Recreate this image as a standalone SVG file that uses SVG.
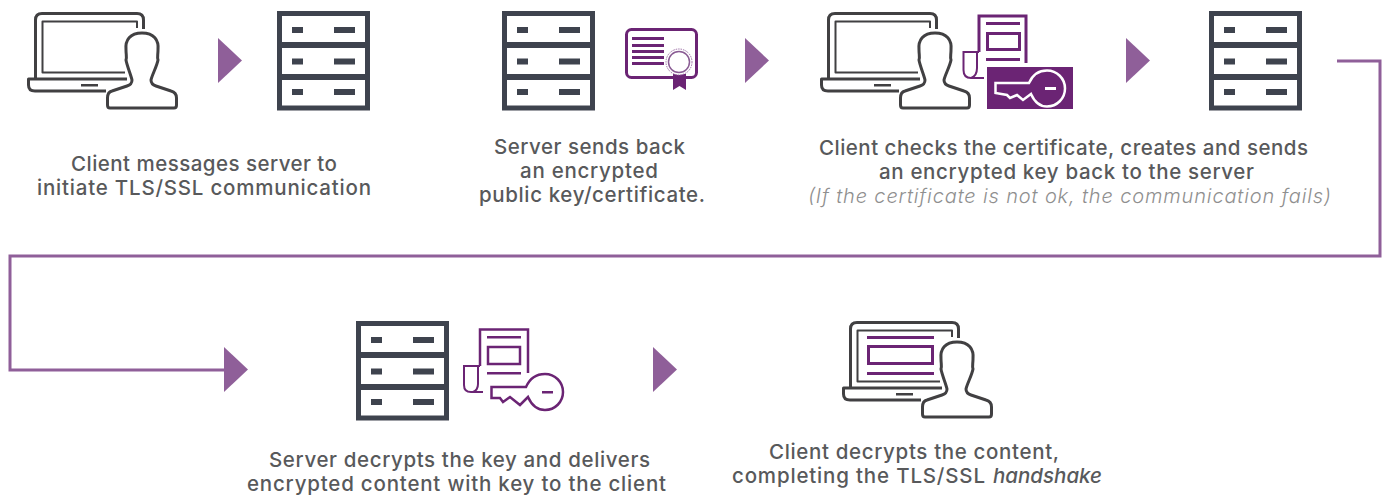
<svg xmlns="http://www.w3.org/2000/svg" width="1382" height="498" viewBox="0 0 1382 498">
<style>
.t{font-family:Inter,"Open Sans","Liberation Sans",sans-serif;font-size:20.500px;font-weight:500;fill:#58595b}
.n{font-family:Inter,"Open Sans","Liberation Sans",sans-serif;font-size:20px;font-weight:300;font-style:italic;fill:#8f8f8f}
.i{font-style:italic}
.lap{fill:none;stroke:#414042;stroke-width:3;stroke-linejoin:round}
.pur{fill:none;stroke:#6b2474;stroke-width:3}
.arr{fill:#8f5f99}
</style>
<defs>
<g id="server">
<rect x="2.500" y="2.500" width="88" height="94.500" fill="#fff" stroke="#3e434e" stroke-width="5"/>
<path fill="#3e434e" d="M2 31h89v6H2zM2 63h89v6H2zM15 16h11v6H15zM57 16h21v6H57zM15 47.500h11v6H15zM57 47.500h21v6H57zM15 78h11v6H15zM57 78h21v6H57z"/>
</g>
<g id="laptop">
<path class="lap" d="M35.500 78V20Q35.500 13.500 42 13.500H137Q143.500 13.500 143.500 20V29"/>
<path class="lap" style="stroke-width:2" d="M137 28V21.500H42.500V72.500H125"/>
<path class="lap" d="M127 79H28.500V85Q28.500 91 35 91H106"/>
<rect x="81" y="84" width="17" height="2.500" fill="#414042"/>
<path class="lap" style="fill:#fff" d="M142 33C130 33 125 40 126 50C126 55 127 57 126 60C127 66 131 75 132 80C132 84 130 85 127 86L112 91C108 92 107.500 95 107.500 98V105Q107.500 108 110 108H174Q176.500 108 176.500 105V98C176.500 95 175 92 171 91L156 86C153 85 151 83 151 80C152 75 157 66 158 60C157 57 158 55 158 50C159 40 154 33 142 33Z"/>
</g>
<path id="tri" class="arr" d="M0 0L24 22.500L0 45Z"/>
</defs>

<g id="connectors">
<path fill="none" stroke="#8f5f99" stroke-width="3" d="M1337 61H1380V256H10V370H226"/>
<use href="#tri" x="218" y="38"/>
<use href="#tri" x="745" y="38"/>
<use href="#tri" x="1126" y="38"/>
<use href="#tri" x="224" y="347"/>
<use href="#tri" x="653" y="347"/>
</g>

<g id="node-client-1"><use href="#laptop"/></g>
<g id="node-server-1"><use href="#server" x="277" y="11"/></g>
<g id="label-1">
<text class="t" x="71" y="171" textLength="266">Client messages server to</text>
<text class="t" x="37" y="195" textLength="334">initiate TLS/SSL communication</text>
</g>

<g id="node-server-2"><use href="#server" x="502" y="11"/></g>
<g id="node-certificate">
<rect x="626.500" y="29.500" width="70" height="48" rx="5" fill="#fff" stroke="#6b2474" stroke-width="3"/>
<path fill="#6b2474" d="M632 37h32v3h-32zM632 44h32v3h-32zM632 50h32v3h-32zM632 56h32v3h-32zM632 62h32v3h-32z"/>
<path fill="#6b2474" d="M673 74h13v16l-6.500-4l-6.500 4z"/>
<circle cx="679" cy="62" r="13" fill="#fff" stroke="#9a6aa3" stroke-width="1" stroke-dasharray="1.500 1"/>
<circle cx="679" cy="62" r="10.500" fill="#fff" stroke="#8a5c94" stroke-width="1.500"/>
</g>
<g id="label-2">
<text class="t" x="494" y="154" textLength="191">Server sends back</text>
<text class="t" x="520" y="178" textLength="138">an encrypted</text>
<text class="t" x="479" y="202" textLength="226">public key/certificate.</text>
</g>

<g id="node-client-3"><use href="#laptop" x="793"/></g>
<g id="node-document-key">
<path class="pur" d="M1026 63V16H979V52"/>
<path fill="#6b2474" d="M986 22h34v3h-34zM986 58h34v3h-34z"/>
<rect x="987.500" y="33.500" width="32" height="16" class="pur"/>
<path class="pur" style="stroke-width:2" d="M979 52H963.500V70Q963.500 78 971 78H984M977 52V68Q977 76 971 78"/>
<rect x="987" y="67" width="86" height="42" fill="#6b2474"/>
<path fill="none" stroke="#fff" stroke-width="2.500" d="M995.500 83H1029C1033 74 1040 70.500 1047 70.500C1057 70.500 1065 78.500 1065 88.500C1065 98.500 1057 106.500 1047 106.500C1040 106.500 1035 103 1031 94L1023 100L1017 95L1010 98L1007 95L995.500 93Z"/>
<rect x="1045" y="87" width="11" height="3" fill="#fff"/>
</g>
<g id="node-server-3"><use href="#server" x="1209" y="11"/></g>
<g id="label-3">
<text class="t" x="819" y="155" textLength="489">Client checks the certificate, creates and sends</text>
<text class="t" x="879" y="179" textLength="375">an encrypted key back to the server</text>
<text class="n" x="808" y="203" textLength="523">(If the certificate is not ok, the communication fails)</text>
</g>

<g id="node-server-4"><use href="#server" x="356" y="321"/></g>
<g id="node-document-key-2">
<path class="pur" style="stroke-width:2.500" d="M528 373V329.500H480V366"/>
<path fill="#6b2474" d="M487 336h34v2.500h-34zM487 372h34v2.500h-34z"/>
<rect x="488" y="347" width="32" height="17" class="pur" style="stroke-width:2.500"/>
<path class="pur" style="stroke-width:2" d="M480 366H464V385Q464 392 471 392H483M478 366V384Q478 390 473 392"/>
<path class="pur" style="stroke-width:2.500" d="M491.500 387H526C530 378 537 374 545 374C555 374 563 382 563 392C563 402 555 410 545 410C537 410 532 406 528 397L520 405L510 397L503 402L500 398H491.500Z"/>
<rect x="542" y="391" width="11" height="2.500" fill="#6b2474"/>
</g>
<g id="label-4">
<text class="t" x="269" y="467" textLength="381">Server decrypts the key and delivers</text>
<text class="t" x="247" y="491" textLength="419">encrypted content with key to the client</text>
</g>

<g id="node-client-5">
<use href="#laptop" x="815" y="309"/>
<path fill="#6b2474" d="M867 336h67v3h-67zM867 372h67v3h-67z"/>
<rect x="868.500" y="346.500" width="64" height="17" class="pur"/>
</g>
<g id="label-5">
<text class="t" x="769" y="459" textLength="290">Client decrypts the content,</text>
<text class="t" x="732" y="483" textLength="253">completing the TLS/SSL</text>
<text class="t i" x="993" y="483" textLength="109">handshake</text>
</g>
</svg>
